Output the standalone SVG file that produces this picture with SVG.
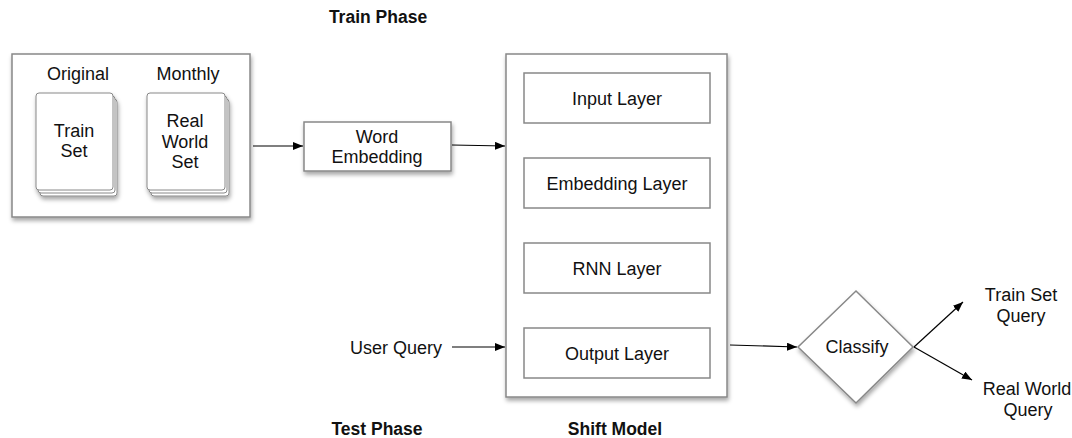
<svg xmlns="http://www.w3.org/2000/svg" width="1072" height="438" viewBox="0 0 1072 438">
<defs>
<filter id="sh" x="-20%" y="-20%" width="140%" height="140%">
<feDropShadow dx="1" dy="3" stdDeviation="2" flood-color="#000" flood-opacity="0.35"/>
</filter>
<marker id="ah" markerWidth="10" markerHeight="8" refX="10" refY="4" orient="auto" markerUnits="userSpaceOnUse">
<path d="M0,0 L10,4 L0,8 Z" fill="#000"/>
</marker>
<style>
text{font-family:"Liberation Sans",Arial,Helvetica,sans-serif;font-size:18px;fill:#111;text-anchor:middle}
.b{font-weight:bold;font-size:17.5px}
.box{fill:#fff;stroke:#888;stroke-width:1.5}
.page{fill:#fff;stroke:#888;stroke-width:1}
.inner{fill:#fff;stroke:#888;stroke-width:1.5}
.c{fill:none;stroke:#000;stroke-width:1.2;marker-end:url(#ah)}
</style>
</defs>
<rect width="1072" height="438" fill="#fff"/>

<g id="titles">
<text class="b" x="378" y="23">Train Phase</text>
<text class="b" x="377" y="435">Test Phase</text>
<text class="b" x="615" y="435">Shift Model</text>
</g>

<g id="datasets">
<rect class="box" x="12" y="54" width="238" height="163" filter="url(#sh)"/>
<text x="78" y="80">Original</text>
<text x="188" y="80">Monthly</text>
</g>

<g id="train-set">
<g filter="url(#sh)">
<rect class="page" x="40" y="99" width="77" height="97" rx="3"/>
<rect class="page" x="38" y="96" width="77" height="97" rx="3"/>
<rect class="page" x="36" y="93" width="77" height="97" rx="3"/>
</g>
<text x="74" y="137">Train</text>
<text x="74" y="157">Set</text>
</g>

<g id="real-world-set">
<g filter="url(#sh)">
<rect class="page" x="151" y="99" width="78" height="97" rx="3"/>
<rect class="page" x="149" y="96" width="78" height="97" rx="3"/>
<rect class="page" x="147" y="93" width="78" height="97" rx="3"/>
</g>
<text x="185" y="127">Real</text>
<text x="185" y="147.5">World</text>
<text x="185" y="168">Set</text>
</g>

<g id="word-embedding">
<rect class="box" x="304" y="122" width="147" height="49" filter="url(#sh)"/>
<text x="377" y="143">Word</text>
<text x="377" y="163">Embedding</text>
</g>

<g id="shift-model">
<rect class="box" x="506" y="54" width="221" height="343" filter="url(#sh)"/>
</g>

<g id="input-layer">
<rect class="inner" x="524" y="73" width="186" height="50"/>
<text x="617" y="104.5">Input Layer</text>
</g>
<g id="embedding-layer">
<rect class="inner" x="524" y="158" width="186" height="50"/>
<text x="617" y="189.5">Embedding Layer</text>
</g>
<g id="rnn-layer">
<rect class="inner" x="524" y="243" width="186" height="50"/>
<text x="617" y="274.5">RNN Layer</text>
</g>
<g id="output-layer">
<rect class="inner" x="524" y="328" width="186" height="50"/>
<text x="617" y="359.5">Output Layer</text>
</g>

<g id="user-query">
<text x="396" y="354">User Query</text>
</g>

<g id="classify">
<path class="box" d="M856,291 L913,347 L856,403 L798,347 Z" filter="url(#sh)"/>
<text x="857" y="353">Classify</text>
</g>

<g id="train-set-query">
<text x="1021" y="301">Train Set</text>
<text x="1021" y="322">Query</text>
</g>
<g id="real-world-query">
<text x="1027" y="395">Real World</text>
<text x="1028" y="416">Query</text>
</g>

<g id="connectors">
<line class="c" x1="253" y1="146" x2="303" y2="146"/>
<line class="c" x1="452" y1="145" x2="505" y2="146"/>
<line class="c" x1="452" y1="347" x2="505" y2="347"/>
<line class="c" x1="730" y1="345" x2="797" y2="347"/>
<line class="c" x1="914" y1="347" x2="963" y2="302"/>
<line class="c" x1="914" y1="347" x2="972" y2="380"/>
</g>
</svg>
